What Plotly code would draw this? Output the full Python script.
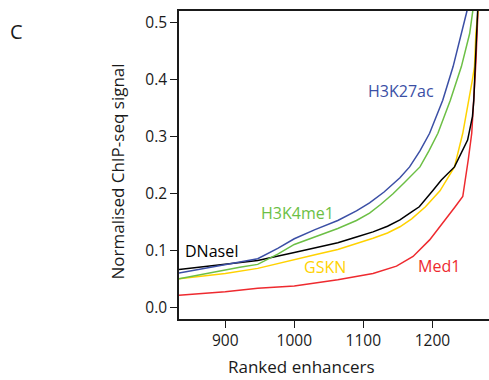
import plotly.graph_objects as go

# ---- data ----
h3k27ac_x = [833, 860, 900, 921, 947, 976, 1000, 1030, 1063, 1090, 1109, 1130, 1153, 1167, 1182, 1196, 1215, 1230, 1242, 1250, 1256]
h3k27ac_y = [0.061, 0.067, 0.076, 0.080, 0.086, 0.104, 0.121, 0.137, 0.153, 0.170, 0.184, 0.203, 0.228, 0.247, 0.275, 0.306, 0.364, 0.423, 0.481, 0.520, 0.56]

h3k4me1_x = [833, 860, 900, 921, 947, 976, 1000, 1030, 1063, 1090, 1109, 1125, 1143, 1160, 1182, 1195, 1208, 1226, 1242, 1254, 1259, 1263]
h3k4me1_y = [0.051, 0.057, 0.067, 0.071, 0.076, 0.094, 0.111, 0.125, 0.139, 0.153, 0.166, 0.181, 0.200, 0.220, 0.247, 0.275, 0.306, 0.364, 0.423, 0.481, 0.520, 0.56]

dnase_x = [833, 870, 900, 947, 1000, 1030, 1063, 1090, 1114, 1135, 1153, 1170, 1181, 1201, 1213, 1232, 1251, 1258, 1260, 1262, 1265, 1267]
dnase_y = [0.067, 0.072, 0.077, 0.083, 0.097, 0.105, 0.114, 0.124, 0.133, 0.143, 0.154, 0.168, 0.177, 0.206, 0.224, 0.247, 0.294, 0.335, 0.364, 0.423, 0.520, 0.56]

gskn_x = [833, 870, 900, 947, 1000, 1030, 1063, 1090, 1114, 1135, 1153, 1170, 1190, 1211, 1232, 1244, 1253, 1258, 1261, 1263, 1266, 1268]
gskn_y = [0.051, 0.056, 0.060, 0.069, 0.085, 0.093, 0.102, 0.112, 0.122, 0.131, 0.142, 0.156, 0.177, 0.205, 0.247, 0.306, 0.364, 0.400, 0.423, 0.481, 0.520, 0.56]

med1_x = [833, 900, 947, 1000, 1063, 1114, 1148, 1172, 1196, 1215, 1233, 1244, 1248, 1252, 1257, 1260, 1263, 1266, 1268]
med1_y = [0.022, 0.028, 0.034, 0.038, 0.049, 0.060, 0.073, 0.090, 0.119, 0.148, 0.177, 0.195, 0.224, 0.260, 0.306, 0.364, 0.430, 0.520, 0.56]

x_ticks = [900, 1000, 1100, 1200]
y_ticks = [0.0, 0.1, 0.2, 0.3, 0.4, 0.5]
y_tick_labels = ["0.0", "0.1", "0.2", "0.3", "0.4", "0.5"]

series = [
    ("Med1", med1_x, med1_y, "#ee2a2f", 1209, 0.074),
    ("GSKN", gskn_x, gskn_y, "#ffd200", 1045, 0.072),
    ("DNaseI", dnase_x, dnase_y, "#000000", 881, 0.100),
    ("H3K4me1", h3k4me1_x, h3k4me1_y, "#6cbf45", 1004, 0.166),
    ("H3K27ac", h3k27ac_x, h3k27ac_y, "#3b4fa5", 1154, 0.380),
]

FONT = "Open Sans"
TXT = "#1a1a1a"

fig = go.Figure()
for name, xs, ys, col, lx, ly in series:
    fig.add_trace(go.Scatter(x=xs, y=ys, mode="lines", name=name,
                             line=dict(color=col, width=1.5), showlegend=False))
    fig.add_annotation(x=lx, y=ly, text=name, showarrow=False,
                       font=dict(family=FONT, size=16, color=col),
                       xanchor="center", yanchor="middle")

fig.add_annotation(xref="paper", yref="paper", x=-0.523, y=0.985, text="C",
                   showarrow=False, xanchor="center", yanchor="top",
                   font=dict(family=FONT, size=20, color=TXT))
fig.add_annotation(xref="paper", yref="paper", x=0.395, y=-0.155,
                   text="Ranked enhancers", showarrow=False,
                   xanchor="center", yanchor="middle",
                   font=dict(family=FONT, size=17, color=TXT))
fig.add_annotation(xref="paper", yref="paper", x=-0.2, y=0.479,
                   text="Normalised ChIP-seq signal", showarrow=False, textangle=-90,
                   xanchor="center", yanchor="middle",
                   font=dict(family=FONT, size=17, color=TXT))

fig.update_layout(
    width=489, height=380,
    margin=dict(l=179, r=0, t=11, b=61),
    paper_bgcolor="white", plot_bgcolor="white",
    font=dict(family=FONT, size=15, color=TXT),
    xaxis=dict(range=[833, 1282], tickvals=x_ticks, ticks="outside", ticklen=7,
               tickcolor=TXT, showline=True, linecolor=TXT, linewidth=1.5,
               mirror=True, showgrid=False, zeroline=False,
               tickfont=dict(size=15.5)),
    yaxis=dict(range=[-0.0198, 0.5205], tickvals=y_ticks, ticktext=y_tick_labels,
               ticks="outside", ticklen=7, tickcolor=TXT,
               showline=True, linecolor=TXT, linewidth=1.5, mirror=False,
               showgrid=False, zeroline=False,
               tickfont=dict(size=15.5)),
)

fig.write_html("out.html")
